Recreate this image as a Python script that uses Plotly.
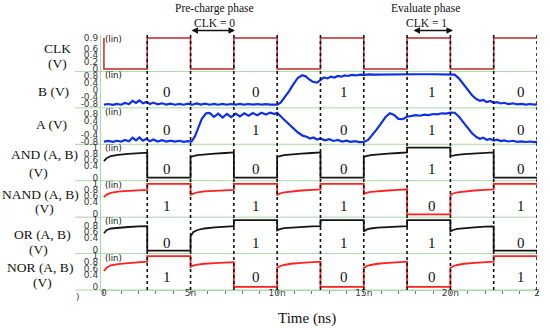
import plotly.graph_objects as go
from plotly.subplots import make_subplots

# ---------------- data ----------------
clk_wave = [(0, 0.9), (0, 0), (2.5, 0), (2.5, 0.9), (5, 0.9), (5, 0), (7.5, 0), (7.5, 0.9),
            (10, 0.9), (10, 0), (12.5, 0), (12.5, 0.9), (15, 0.9), (15, 0), (17.5, 0), (17.5, 0.9),
            (20, 0.9), (20, 0), (22.5, 0), (22.5, 0.9), (25, 0.9)]

b_wave = [(0.0, -0.84), (0.25, -0.80), (0.5, -0.85), (0.75, -0.79), (1.0, -0.84), (1.2, -0.74), (1.45, -0.80),
          (1.65, -0.62), (1.85, -0.74), (2.05, -0.60), (2.25, -0.76), (2.45, -0.68), (2.65, -0.80), (2.85, -0.72),
          (3.1, -0.82), (3.35, -0.76), (3.6, -0.83), (3.85, -0.78), (4.1, -0.84), (4.35, -0.79), (4.6, -0.84),
          (4.85, -0.78), (5.1, -0.84), (5.35, -0.77), (5.6, -0.83), (5.85, -0.78), (6.1, -0.84), (6.35, -0.79),
          (6.6, -0.84), (6.85, -0.79), (7.1, -0.84), (7.35, -0.80), (7.6, -0.84), (7.85, -0.79), (8.1, -0.84),
          (8.35, -0.80), (8.6, -0.84), (8.85, -0.80), (9.1, -0.84), (9.35, -0.81), (9.6, -0.84), (9.85, -0.82),
          (10.0, -0.84), (10.2, -0.72), (10.45, -0.40), (10.7, -0.05), (10.95, 0.35), (11.2, 0.70), (11.45, 0.84),
          (11.65, 0.78), (11.85, 0.60), (12.05, 0.47), (12.3, 0.42), (12.5, 0.58), (12.7, 0.72), (12.9, 0.66),
          (13.1, 0.76), (13.3, 0.71), (13.5, 0.80), (13.7, 0.76), (13.9, 0.83), (14.1, 0.80), (14.3, 0.86),
          (14.55, 0.83), (14.8, 0.88), (15.05, 0.86), (15.3, 0.89), (15.6, 0.88), (16.0, 0.89), (17.0, 0.90),
          (18.0, 0.90), (19.0, 0.90), (20.0, 0.90), (20.25, 0.88), (20.5, 0.65), (20.75, 0.35), (21.0, 0.02),
          (21.25, -0.30), (21.5, -0.52), (21.7, -0.62), (21.9, -0.57), (22.1, -0.69), (22.3, -0.63), (22.5, -0.73),
          (22.7, -0.69), (22.9, -0.77), (23.1, -0.73), (23.35, -0.80), (23.6, -0.76), (23.85, -0.82), (24.1, -0.79),
          (24.35, -0.83), (24.6, -0.80), (24.85, -0.84), (25.0, -0.82)]

a_wave = [(0.0, -0.80), (0.25, -0.76), (0.5, -0.81), (0.75, -0.75), (1.0, -0.80), (1.2, -0.70), (1.45, -0.78),
          (1.65, -0.58), (1.85, -0.72), (2.05, -0.56), (2.25, -0.74), (2.45, -0.64), (2.65, -0.77), (2.85, -0.68),
          (3.1, -0.79), (3.35, -0.72), (3.6, -0.80), (3.85, -0.74), (4.1, -0.80), (4.35, -0.75), (4.6, -0.81),
          (4.85, -0.77), (5.05, -0.80), (5.25, -0.50), (5.45, 0.00), (5.65, 0.50), (5.9, 0.82), (6.1, 0.84),
          (6.35, 0.62), (6.6, 0.80), (6.85, 0.58), (7.1, 0.78), (7.35, 0.60), (7.6, 0.80), (7.85, 0.64),
          (8.1, 0.82), (8.35, 0.68), (8.6, 0.83), (8.85, 0.71), (9.1, 0.85), (9.35, 0.75), (9.6, 0.86),
          (9.85, 0.78), (10.0, 0.85), (10.3, 0.55), (10.6, 0.28), (10.9, 0.00), (11.2, -0.28), (11.5, -0.47),
          (11.7, -0.52), (11.9, -0.62), (12.1, -0.56), (12.3, -0.68), (12.5, -0.62), (12.75, -0.72), (13.0, -0.66),
          (13.25, -0.76), (13.5, -0.70), (13.75, -0.79), (14.0, -0.74), (14.25, -0.81), (14.5, -0.77),
          (14.75, -0.83), (15.0, -0.82), (15.25, -0.70), (15.5, -0.42), (15.75, -0.10), (16.0, 0.25),
          (16.25, 0.60), (16.5, 0.82), (16.75, 0.72), (17.0, 0.50), (17.25, 0.48), (17.5, 0.62), (17.75, 0.66),
          (18.0, 0.71), (18.25, 0.68), (18.5, 0.74), (18.75, 0.72), (19.0, 0.78), (19.25, 0.76), (19.5, 0.82),
          (19.75, 0.80), (20.0, 0.86), (20.25, 0.85), (20.5, 0.62), (20.75, 0.30), (21.0, -0.02), (21.25, -0.32),
          (21.5, -0.54), (21.7, -0.64), (21.9, -0.58), (22.1, -0.70), (22.3, -0.64), (22.5, -0.74), (22.7, -0.69),
          (22.9, -0.77), (23.1, -0.73), (23.35, -0.79), (23.6, -0.75), (23.85, -0.81), (24.1, -0.78),
          (24.35, -0.82), (24.6, -0.79), (24.85, -0.83), (25.0, -0.81)]

and_wave = [(0, 0.55), (0.15, 0.65), (0.4, 0.72), (0.8, 0.76), (1.4, 0.79), (2.0, 0.81), (2.5, 0.83), (2.5, 0), (5, 0),
            (5, 0.68), (5.15, 0.72), (5.4, 0.75), (5.8, 0.78), (6.4, 0.80), (7.0, 0.82), (7.5, 0.84), (7.5, 0), (10, 0),
            (10, 0.68), (10.15, 0.72), (10.4, 0.75), (10.8, 0.78), (11.4, 0.80), (12.0, 0.82), (12.5, 0.84), (12.5, 0), (15, 0),
            (15, 0.68), (15.15, 0.72), (15.4, 0.75), (15.8, 0.78), (16.4, 0.80), (17.0, 0.82), (17.5, 0.84), (17.5, 1.0), (20, 1.0),
            (20, 0.72), (20.15, 0.74), (20.4, 0.76), (20.8, 0.78), (21.4, 0.80), (22.0, 0.82), (22.5, 0.84), (22.5, 0), (25, 0)]

nand_wave = [(0, 0.56), (0.15, 0.64), (0.4, 0.70), (0.8, 0.74), (1.4, 0.77), (2.0, 0.79), (2.5, 0.80), (2.5, 1.0), (5, 1.0),
             (5, 0.64), (5.15, 0.68), (5.4, 0.72), (5.8, 0.75), (6.4, 0.77), (7.0, 0.79), (7.5, 0.80), (7.5, 1.0), (10, 1.0),
             (10, 0.62), (10.15, 0.68), (10.4, 0.72), (10.8, 0.75), (11.4, 0.78), (12.0, 0.80), (12.5, 0.82), (12.5, 1.0), (15, 1.0),
             (15, 0.66), (15.15, 0.70), (15.4, 0.73), (15.8, 0.76), (16.4, 0.78), (17.0, 0.80), (17.5, 0.82), (17.5, -0.03), (20, -0.03),
             (20, 0.62), (20.15, 0.68), (20.4, 0.72), (20.8, 0.75), (21.4, 0.78), (22.0, 0.80), (22.5, 0.82), (22.5, 1.0), (25, 1.0)]

or_wave = [(0, 0.56), (0.15, 0.66), (0.4, 0.72), (0.8, 0.75), (1.4, 0.77), (2.0, 0.79), (2.5, 0.80), (2.5, -0.02), (5, -0.02),
           (5, 0.45), (5.15, 0.60), (5.4, 0.67), (5.8, 0.72), (6.4, 0.76), (7.0, 0.78), (7.5, 0.80), (7.5, 1.0), (10, 1.0),
           (10, 0.66), (10.15, 0.70), (10.4, 0.73), (10.8, 0.75), (11.4, 0.77), (12.0, 0.79), (12.5, 0.80), (12.5, 1.0), (15, 1.0),
           (15, 0.62), (15.15, 0.68), (15.4, 0.72), (15.8, 0.75), (16.4, 0.77), (17.0, 0.79), (17.5, 0.80), (17.5, 1.0), (20, 1.0),
           (20, 0.62), (20.15, 0.67), (20.4, 0.71), (20.8, 0.74), (21.4, 0.76), (22.0, 0.78), (22.5, 0.79), (22.5, -0.02), (25, -0.02)]

nor_wave = [(0, 0.52), (0.15, 0.62), (0.4, 0.70), (0.8, 0.74), (1.4, 0.77), (2.0, 0.80), (2.5, 0.82), (2.5, 1.0), (5, 1.0),
            (5, 0.65), (5.15, 0.69), (5.4, 0.72), (5.8, 0.75), (6.4, 0.77), (7.0, 0.79), (7.5, 0.80), (7.5, 0), (10, 0),
            (10, 0.61), (10.15, 0.67), (10.4, 0.71), (10.8, 0.75), (11.4, 0.78), (12.0, 0.80), (12.5, 0.82), (12.5, 0), (15, 0),
            (15, 0.61), (15.15, 0.67), (15.4, 0.71), (15.8, 0.75), (16.4, 0.78), (17.0, 0.80), (17.5, 0.82), (17.5, 0), (20, 0),
            (20, 0.61), (20.15, 0.67), (20.4, 0.71), (20.8, 0.75), (21.4, 0.78), (22.0, 0.80), (22.5, 0.82), (22.5, 1.0), (25, 1.0)]

clock_edges = [2.5, 5, 7.5, 10, 12.5, 15, 17.5, 20, 22.5, 25]
label_times = [3.65, 8.8, 13.85, 18.95, 24.05]

b_bits = ["0", "0", "1", "1", "0"]
a_bits = ["0", "1", "0", "1", "0"]
and_bits = ["0", "0", "0", "1", "0"]
nand_bits = ["1", "1", "1", "0", "1"]
or_bits = ["0", "1", "1", "1", "0"]
nor_bits = ["1", "0", "0", "0", "1"]

clk_ticks = [0.9, 0.6, 0.4, 0.2, 0]
ab_ticks = [0.8, 0.4, 0, -0.4, -0.8]
logic_ticks = [1, 0.8, 0.6, 0.4, 0]
x_tickvals = [0, 5, 10, 15, 20, 25]
x_ticktext = ["0", "5n", "10n", "15n", "20n", "2"]

# ---------------- layout helpers ----------------
W, H = 550, 330
L, R, T, Bm = 101, 13, 35, 40
PW = W - L - R
PH = H - T - Bm


def px(x):
    return (x - L) / PW


def py(y):
    return (H - Bm - y) / PH


SERIF = "Liberation Serif, Times New Roman, serif"
SANS = "DejaVu Sans, Arial, sans-serif"
GREEN = "#a9d9a9"

rows = [
    dict(wave=clk_wave, color="#c0282d", width=1.5, rng=[-0.07, 0.99], ticks=clk_ticks, bits=None, by=None),
    dict(wave=b_wave, color="#1030e6", width=2.2, rng=[-1.02, 1.06], ticks=ab_ticks, bits=b_bits, by=-0.12),
    dict(wave=a_wave, color="#1030e6", width=2.2, rng=[-0.95, 1.13], ticks=ab_ticks, bits=a_bits, by=-0.11),
    dict(wave=and_wave, color="#151515", width=1.8, rng=[-0.1, 1.11], ticks=logic_ticks, bits=and_bits, by=0.30),
    dict(wave=nand_wave, color="#ff2020", width=1.8, rng=[-0.12, 1.11], ticks=logic_ticks, bits=nand_bits, by=0.25),
    dict(wave=or_wave, color="#151515", width=1.8, rng=[-0.12, 1.1], ticks=logic_ticks, bits=or_bits, by=0.25),
    dict(wave=nor_wave, color="#ff2020", width=1.8, rng=[-0.1, 1.08], ticks=logic_ticks, bits=nor_bits, by=0.32),
]

fig = make_subplots(rows=7, cols=1, shared_xaxes=True, vertical_spacing=0)

annotations = []
for i, r in enumerate(rows, start=1):
    ts = [p[0] for p in r["wave"]]
    vs = [p[1] for p in r["wave"]]
    fig.add_trace(go.Scatter(x=ts, y=vs, mode="lines",
                             line=dict(color=r["color"], width=r["width"]),
                             showlegend=False, hoverinfo="skip"), row=i, col=1)
    fig.update_yaxes(row=i, col=1, range=r["rng"], tickmode="array", tickvals=r["ticks"],
                     ticktext=[str(v) for v in r["ticks"]],
                     tickfont=dict(family=SANS, size=9, color="#3a3a3a"),
                     showgrid=False, zeroline=False, showline=True, linecolor=GREEN,
                     linewidth=1, ticks="", fixedrange=True, automargin=False)
    yref = "y" if i == 1 else f"y{i}"
    xref = "x" if i == 1 else f"x{i}"
    if r["bits"]:
        for tt, b in zip(label_times, r["bits"]):
            annotations.append(dict(x=tt, y=r["by"], xref=xref, yref=yref, text=b,
                                    xanchor="center", yanchor="middle",
                                    showarrow=False, font=dict(family=SERIF, size=15, color="#111")))
    top = 1 - (i - 1) / 7
    annotations.append(dict(x=0, y=top, xref="paper", yref="paper", xanchor="left", yanchor="top",
                            xshift=2, yshift=3, text="(lin)", showarrow=False,
                            font=dict(family=SANS, size=8.5, color="#111")))

fig.update_xaxes(range=[-0.17, 25.0], showgrid=False, zeroline=False, showline=False, ticks="",
                 fixedrange=True, automargin=False)
fig.update_xaxes(row=7, col=1, showline=True, linecolor=GREEN, linewidth=1,
                 tickmode="array", tickvals=x_tickvals, ticktext=x_ticktext,
                 ticks="", ticklabelstandoff=-6,
                 tickfont=dict(family=SANS, size=9, color="#3a3a3a"),
                 minor=dict(dtick=1, tick0=0, ticks="outside", ticklen=3, tickcolor="#777", tickwidth=1))

# panel separators (green)
shapes = []
for k in range(0, 7):
    yy = k / 7
    shapes.append(dict(type="line", xref="paper", yref="paper", x0=px(75), x1=1, y0=yy, y1=yy,
                       line=dict(color=GREEN, width=1), layer="below"))
# clock-edge dotted lines
for e in clock_edges:
    shapes.append(dict(type="line", xref="x7", yref="paper", x0=e, x1=e, y0=0, y1=1,
                       line=dict(color="#111", width=1.6, dash="dot"), layer="above"))

# left-side signal labels
side_labels = [
    ("CLK", 57, 48), ("(V)", 57, 63),
    ("B (V)", 53, 91),
    ("A (V)", 51, 125),
    ("AND (A, B)", 44, 154), ("(V)", 38, 172),
    ("NAND (A, B)", 40, 194), ("(V)", 44, 208),
    ("OR (A, B)", 42, 234), ("(V)", 38, 249),
    ("NOR (A, B)", 40, 267), ("(V)", 42, 282),
]
for txt, cx, cy in side_labels:
    annotations.append(dict(x=px(cx), y=py(cy), xref="paper", yref="paper", text=txt,
                            showarrow=False, xanchor="center", yanchor="middle",
                            font=dict(family=SERIF, size=13.5, color="#111")))

# phase annotations
top_texts = [("Pre-charge phase", 214, 9), ("CLK = 0", 214, 23),
             ("Evaluate phase", 425, 9), ("CLK = 1", 426, 23)]
for txt, cx, cy in top_texts:
    annotations.append(dict(x=px(cx), y=py(cy), xref="paper", yref="paper", text=txt,
                            showarrow=False, xanchor="center", yanchor="middle",
                            font=dict(family=SERIF, size=11.5, color="#111")))
for x0, x1 in [(190, 235), (412, 453)]:
    annotations.append(dict(x=px(x1), y=py(30.5), xref="paper", yref="paper", text="",
                            showarrow=True, ax=-(x1 - x0), ay=0, axref="pixel", ayref="pixel",
                            arrowhead=2, arrowside="end+start", arrowsize=1, arrowwidth=1.3,
                            arrowcolor="#111", standoff=0, startstandoff=0))

# x-axis title and clipped tick remnant
annotations.append(dict(x=px(307), y=py(318), xref="paper", yref="paper", text="Time (ns)",
                        xanchor="center", yanchor="middle",
                        showarrow=False, font=dict(family=SERIF, size=15, color="#111")))
annotations.append(dict(x=px(78), y=py(297), xref="paper", yref="paper", text=")",
                        xanchor="center", yanchor="middle",
                        showarrow=False, font=dict(family=SANS, size=9, color="#3a3a3a")))

fig.update_layout(width=W, height=H, margin=dict(l=L, r=R, t=T, b=Bm, autoexpand=False),
                  paper_bgcolor="white", plot_bgcolor="white",
                  annotations=annotations, shapes=shapes, showlegend=False)

fig.write_html("out.html", config={"displayModeBar": False},
               post_script="document.body.style.margin='0';document.body.style.padding='0';")
